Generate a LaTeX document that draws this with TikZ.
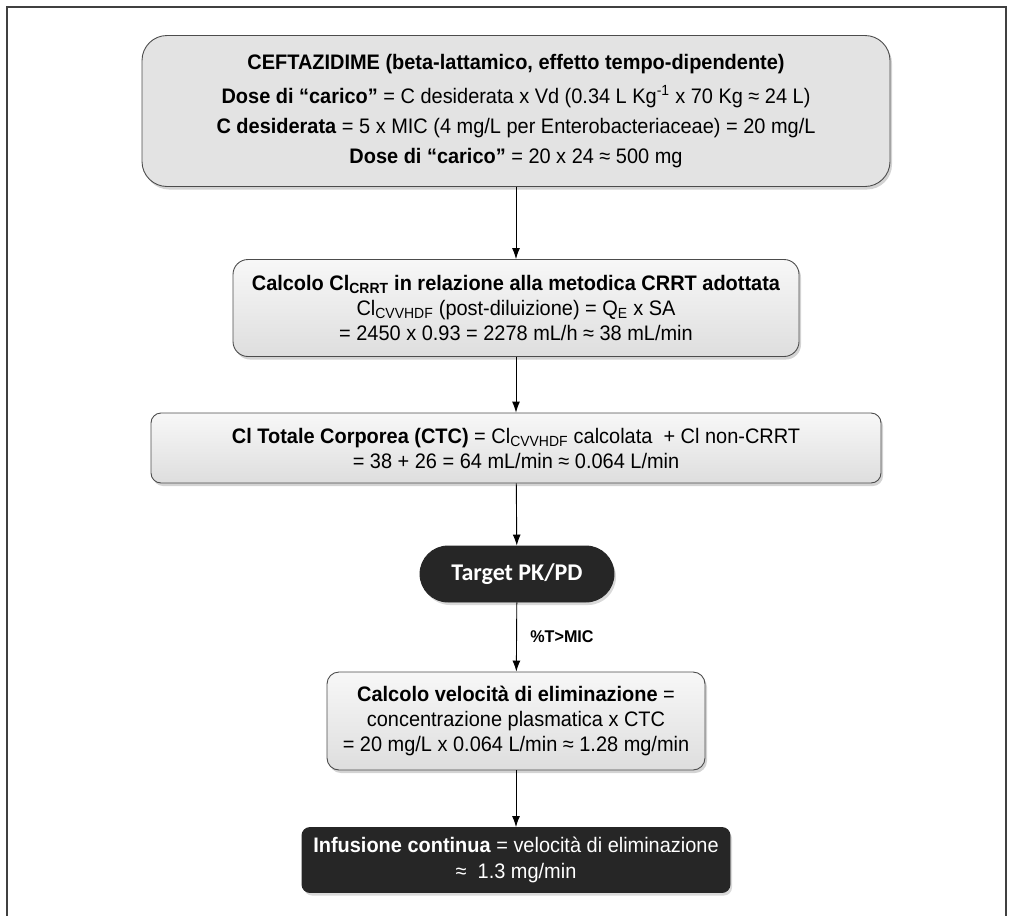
\documentclass[tikz,border=0pt]{standalone}
\usepackage{fontspec}
\setmainfont{Liberation Sans}[FakeStretch=0.95]
\newfontfamily\targetfont{Carlito}
\usetikzlibrary{shadows,arrows.meta}
\tikzset{
    greybox/.style={draw=black!70, line width=0.9pt, rounded corners=#1,
        top color=gray!6, bottom color=gray!26, align=center, inner sep=0pt,
        drop shadow={opacity=0.35, shadow xshift=2pt, shadow yshift=-3pt}},
    darkbox/.style={draw=black!85, line width=0.9pt, rounded corners=#1,
        fill=black!85, text=white, align=center, inner sep=0pt,
        drop shadow={opacity=0.3, shadow xshift=2pt, shadow yshift=-3pt}},
    flowarrow/.style={draw=black, line width=0.9pt, -{Latex[length=11pt,width=8pt]}}
}
\begin{document}
\begin{tikzpicture}[x=1pt, y=-1pt]
        \useasboundingbox (0,0) rectangle (1013,916);
        %outer frame, open at the bottom
        \draw [black!75, line width=2pt] (7,916) -- (7,7) -- (1006,7) -- (1006,916);

        %boxes
        \node [greybox=25pt, top color=gray!22, bottom color=gray!22,
               minimum width=748pt, minimum height=151pt,
               font=\fontsize{21}{30}\selectfont] (ceft) at (516,111)
            {\textbf{CEFTAZIDIME (beta-lattamico, effetto tempo-dipendente)}\\[4pt]
             \textbf{Dose di “carico”} = C desiderata x Vd (0.34 L Kg\textsuperscript{-1} x 70 Kg ≈ 24 L)\\
             \textbf{C desiderata} = 5 x MIC (4 mg/L per Enterobacteriaceae) = 20 mg/L\\
             \textbf{Dose di “carico”} = 20 x 24 ≈ 500 mg};

        \node [greybox=15pt, minimum width=566pt, minimum height=97pt,
               font=\fontsize{21}{25}\selectfont] (clcrrt) at (516,308)
            {\textbf{Calcolo Cl\textsubscript{CRRT} in relazione alla metodica CRRT adottata}\\
             Cl\textsubscript{CVVHDF} (post-diluizione) = Q\textsubscript{E} x SA\\
             = 2450 x 0.93 = 2278 mL/h ≈ 38 mL/min};

        \node [greybox=10pt, minimum width=730pt, minimum height=70pt,
               font=\fontsize{21}{25}\selectfont] (ctc) at (516,448)
            {\textbf{Cl Totale Corporea (CTC)} = Cl\textsubscript{CVVHDF} calcolata\ \ + Cl non-CRRT\\
             = 38 + 26 = 64 mL/min ≈ 0.064 L/min};

        \node [darkbox=28pt, minimum width=194pt, minimum height=56pt,
               font=\targetfont\bfseries\fontsize{24}{26}\selectfont] (target) at (517,574)
            {Target PK/PD};

        \node [greybox=12pt, minimum width=378pt, minimum height=98pt,
               font=\fontsize{21}{25}\selectfont] (velel) at (516,721)
            {\textbf{Calcolo velocità di eliminazione} =\\
             concentrazione plasmatica x CTC\\
             = 20 mg/L x 0.064 L/min ≈ 1.28 mg/min};

        \node [darkbox=8pt, minimum width=428pt, minimum height=65pt,
               font=\fontsize{21}{26}\selectfont] (infus) at (516,860)
            {\textbf{Infusione continua} = velocità di eliminazione\\
             ≈\ \ 1.3 mg/min};

        %connectors
        \draw [flowarrow] (ceft) -- (clcrrt);
        \draw [flowarrow] (clcrrt) -- (ctc);
        \draw [flowarrow] (ctc) -- (target);
        \draw [flowarrow] (target) -- node [right=10pt, font=\bfseries\fontsize{17}{19}\selectfont] (tmic) {\%T>MIC} (velel);
        \draw [flowarrow] (velel) -- (infus);
\end{tikzpicture}
\end{document}
